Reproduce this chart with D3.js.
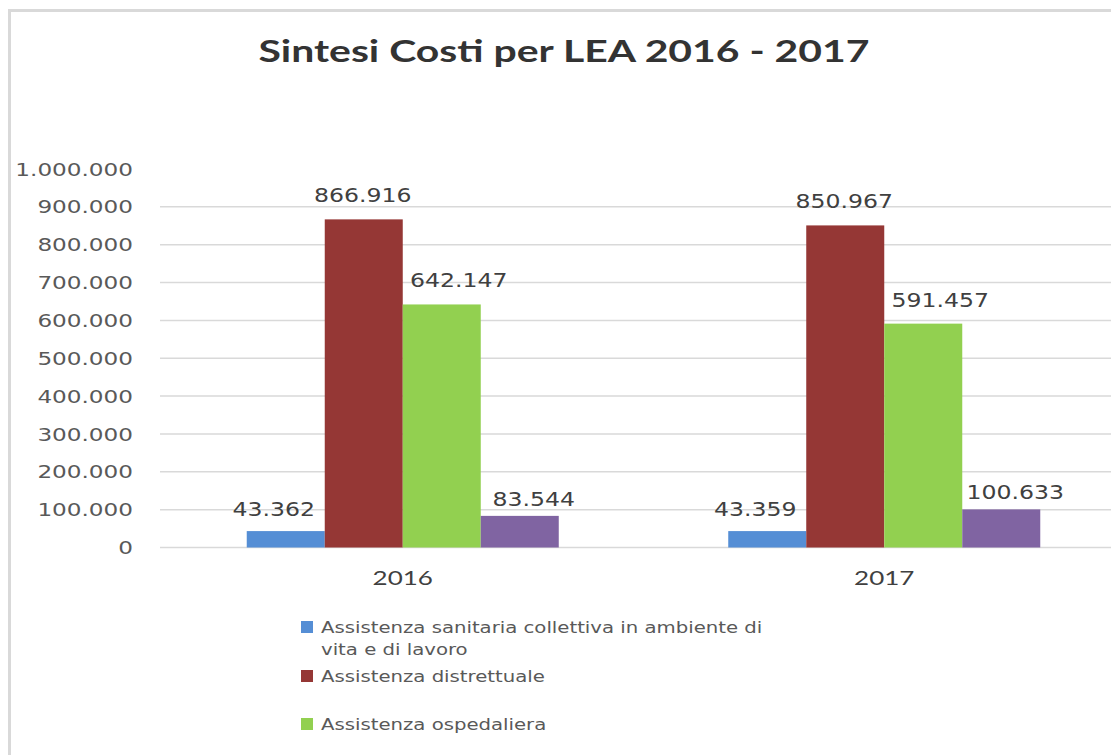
<!DOCTYPE html>
<html>
<head>
<meta charset="utf-8">
<script src="https://cdn.jsdelivr.net/npm/d3@7"></script>
<style>
  html, body { margin: 0; padding: 0; background: #fff; }
  svg { display: block; }
</style>
</head>
<body>
<div id="chart"></div>
<script>
// ---- data ----
const categories = ["2016", "2017"];
const seriesNames = [
  "Assistenza sanitaria collettiva in ambiente di vita e di lavoro",
  "Assistenza distrettuale",
  "Assistenza ospedaliera",
  "Altro"
];
const sanitariaCollettiva = [43362, 43359];
const distrettuale = [866916, 850967];
const ospedaliera = [642147, 591457];
const altro = [83544, 100633];
const yTickValues = [0, 100000, 200000, 300000, 400000, 500000, 600000, 700000, 800000, 900000, 1000000];
const titleText = "Sintesi Costi per LEA 2016 - 2017";

const seriesValues = [sanitariaCollettiva, distrettuale, ospedaliera, altro];
const colors = ["#558ED5", "#953735", "#92D050", "#8064A2"];
// label nudges per series (layout only)
const labelDx = [-12, -1, 17, 14];
const labelGap = [15, 17, 17, 10];

const W = 1111, H = 755;
const svg = d3.select("#chart").append("svg").attr("width", W).attr("height", H);

const itLocale = d3.formatLocale({ decimal: ",", thousands: ".", grouping: [3], currency: ["€", ""] });
const fmt = itLocale.format(",.0f");

function stretch(sel, k) {
  sel.each(function () {
    const w = this.getComputedTextLength();
    d3.select(this).attr("textLength", w * k).attr("lengthAdjust", "spacingAndGlyphs");
  });
}

// border
svg.append("rect").attr("x", 9.5).attr("y", 10.5).attr("width", 1300).attr("height", 900)
  .attr("fill", "none").attr("stroke", "#d9d9d9").attr("stroke-width", 3);

// title
const title = svg.append("text").attr("x", 564).attr("y", 62).attr("text-anchor", "middle")
  .attr("font-family", "Lato, 'Open Sans', sans-serif").attr("font-weight", "bold")
  .attr("font-size", 31).attr("fill", "#333").text(titleText);
title.attr("textLength", 611).attr("lengthAdjust", "spacingAndGlyphs");

// scales
const y = d3.scaleLinear().domain([0, 1000000]).range([547.5, 169]);
const x0 = d3.scaleBand().domain(categories).range([162, 1125]).paddingInner(0.352).paddingOuter(0.176);
const x1 = d3.scaleBand().domain(d3.range(seriesNames.length)).range([0, x0.bandwidth()]).padding(0);

// gridlines (no line at top tick)
svg.append("g").selectAll("line").data(yTickValues.filter(v => v < 1000000)).join("line")
  .attr("x1", 160).attr("x2", W)
  .attr("y1", d => y(d)).attr("y2", d => y(d))
  .attr("stroke", "#d9d9d9").attr("stroke-width", 1.5);

// y axis labels
const yAxis = d3.axisLeft(y).tickValues(yTickValues).tickFormat(fmt).tickSize(0).tickPadding(0);
const yg = svg.append("g").attr("transform", "translate(133,0)").call(yAxis);
yg.select(".domain").remove();
yg.selectAll("text").attr("font-family", "'DejaVu Sans', Verdana, sans-serif")
  .attr("font-size", 17).attr("fill", "#595959").attr("dy", "0.36em");
stretch(yg.selectAll("text"), 1.36);

// bars
const groups = svg.append("g").selectAll("g").data(categories).join("g")
  .attr("transform", d => `translate(${x0(d)},0)`);
groups.selectAll("rect")
  .data((c, ci) => seriesValues.map((vals, si) => ({ si, v: vals[ci] })))
  .join("rect")
  .attr("x", d => x1(d.si)).attr("width", x1.bandwidth())
  .attr("y", d => y(d.v)).attr("height", d => y(0) - y(d.v))
  .attr("fill", d => colors[d.si]);

// value labels
const lbls = groups.selectAll("text.val")
  .data((c, ci) => seriesValues.map((vals, si) => ({ si, v: vals[ci] })))
  .join("text").attr("class", "val")
  .attr("x", d => x1(d.si) + x1.bandwidth() / 2 + labelDx[d.si])
  .attr("y", d => y(d.v) - labelGap[d.si])
  .attr("text-anchor", "middle")
  .attr("font-family", "'DejaVu Sans', Verdana, sans-serif")
  .attr("font-size", 19).attr("fill", "#404040")
  .text(d => fmt(d.v));
stretch(lbls, 1.24);

// x axis labels
const xAxis = d3.axisBottom(x0).tickSize(0).tickPadding(0);
const xg = svg.append("g").attr("transform", "translate(0,585)").call(xAxis);
xg.select(".domain").remove();
xg.selectAll("text").attr("dy", 0).attr("font-family", "Lato, 'Open Sans', sans-serif")
  .attr("font-size", 20).attr("fill", "#404040");
stretch(xg.selectAll("text"), 1.3);

// legend (only the entries that fit in the visible frame, as in the reference)
const legend = svg.append("g").attr("transform", "translate(301,0)");
const legTop = [621, 670, 718];
const maxW = 450, legK = 1.23;
seriesNames.slice(0, legTop.length).forEach((name, i) => {
  const g = legend.append("g").attr("transform", `translate(0,${legTop[i]})`);
  g.append("rect").attr("width", 12).attr("height", 12).attr("fill", colors[i]);
  const t = g.append("text").attr("x", 20).attr("y", 11.5)
    .attr("font-family", "'DejaVu Sans', Verdana, sans-serif")
    .attr("font-size", 16).attr("fill", "#595959");
  const words = name.split(" ");
  let line = [];
  let ts = t.append("tspan").attr("x", 20).attr("dy", 0);
  words.forEach(w => {
    line.push(w);
    ts.text(line.join(" "));
    if (ts.node().getComputedTextLength() * legK > maxW && line.length > 1) {
      line.pop();
      ts.text(line.join(" "));
      line = [w];
      ts = t.append("tspan").attr("x", 20).attr("dy", 22).text(w);
    }
  });
  stretch(t.selectAll("tspan"), legK);
});
</script>
</body>
</html>
